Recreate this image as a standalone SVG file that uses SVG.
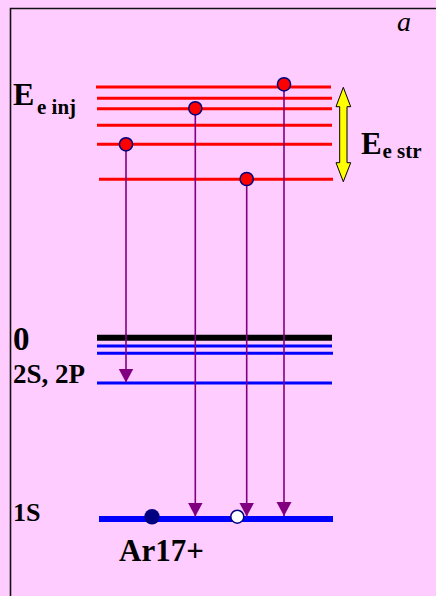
<svg xmlns="http://www.w3.org/2000/svg" width="436" height="596" viewBox="0 0 436 596">
<style>
.red{stroke:#FF0000;stroke-width:3}
.blue{stroke:#0000FF;stroke-width:3}
.tr{stroke:#800080;stroke-width:1.6;fill:none;marker-end:url(#ah)}
.el{fill:#FF0000;stroke:#000080;stroke-width:1.5}
</style>
<defs>
<marker id="ah" markerUnits="userSpaceOnUse" markerWidth="15" markerHeight="16" viewBox="0 0 15 16" refX="14" refY="8" orient="auto">
<path d="M0,0.5 L14,8 L0,15.5 z" fill="#800080"/>
</marker>
</defs>
<rect width="436" height="596" fill="#FFCCFF"/>
<path d="M10.5,596 V8.5 H436" fill="none" stroke="#111" stroke-width="1.6"/>
<g id="levels">
<line class="red" x1="96" y1="87" x2="331" y2="87"/>
<line class="red" x1="97" y1="98.3" x2="332" y2="98.3"/>
<line class="red" x1="97" y1="108.7" x2="332" y2="108.7" stroke-width="5.3"/>
<line class="red" x1="97" y1="125.2" x2="332" y2="125.2"/>
<line class="red" x1="97" y1="144.2" x2="332" y2="144.2"/>
<line class="red" x1="99" y1="179.2" x2="333" y2="179.2"/>
<line x1="97" y1="337.7" x2="332" y2="337.7" stroke="#000" stroke-width="6"/>
<line class="blue" x1="97" y1="346" x2="332" y2="346"/>
<line class="blue" x1="97" y1="353.3" x2="333" y2="353.3"/>
<line class="blue" x1="97" y1="383" x2="332" y2="383"/>
<line x1="99" y1="519" x2="333" y2="519" stroke="#0000FF" stroke-width="6"/>
</g>
<g id="transitions">
<line class="tr" x1="126" y1="150" x2="126" y2="382.5"/>
<line class="tr" x1="195.3" y1="115" x2="195.3" y2="516.5"/>
<line class="tr" x1="246.7" y1="186" x2="246.7" y2="516.5"/>
<line class="tr" x1="284" y1="91" x2="284" y2="516"/>
</g>
<g id="electrons">
<circle class="el" cx="126" cy="144.3" r="6.6"/>
<circle class="el" cx="195.3" cy="108.3" r="6.6"/>
<circle class="el" cx="284" cy="84.3" r="6.6"/>
<circle class="el" cx="246.7" cy="179" r="6.6"/>
<circle cx="152" cy="516.7" r="7.7" fill="#000080"/>
<circle cx="237.3" cy="516.7" r="6.5" fill="#FFFFFF" stroke="#000080" stroke-width="1.5"/>
</g>
<g id="estr-arrow">
<polygon points="343.3,87.3 350.7,106.7 347,106.7 347,162.7 350.7,162.7 343.3,181.7 336,162.7 339.7,162.7 339.7,106.7 336,106.7" fill="#FFFF00" stroke="#000" stroke-width="1"/>
</g>
<g id="labels" font-family="Liberation Serif, serif" font-weight="700" fill="#000">
<text x="13" y="105" font-size="32">E</text>
<text x="37" y="113.5" font-size="21">e inj</text>
<text x="361" y="154" font-size="31">E</text>
<text x="382.5" y="157.5" font-size="21">e str</text>
<text x="397" y="31" font-size="28" font-style="italic" font-weight="400">a</text>
<text x="13" y="350" font-size="33">0</text>
<text x="13" y="382.5" font-size="27">2S, 2P</text>
<text x="13" y="521" font-size="26">1S</text>
<text x="119" y="560.5" font-size="31">Ar17+</text>
</g>
</svg>
